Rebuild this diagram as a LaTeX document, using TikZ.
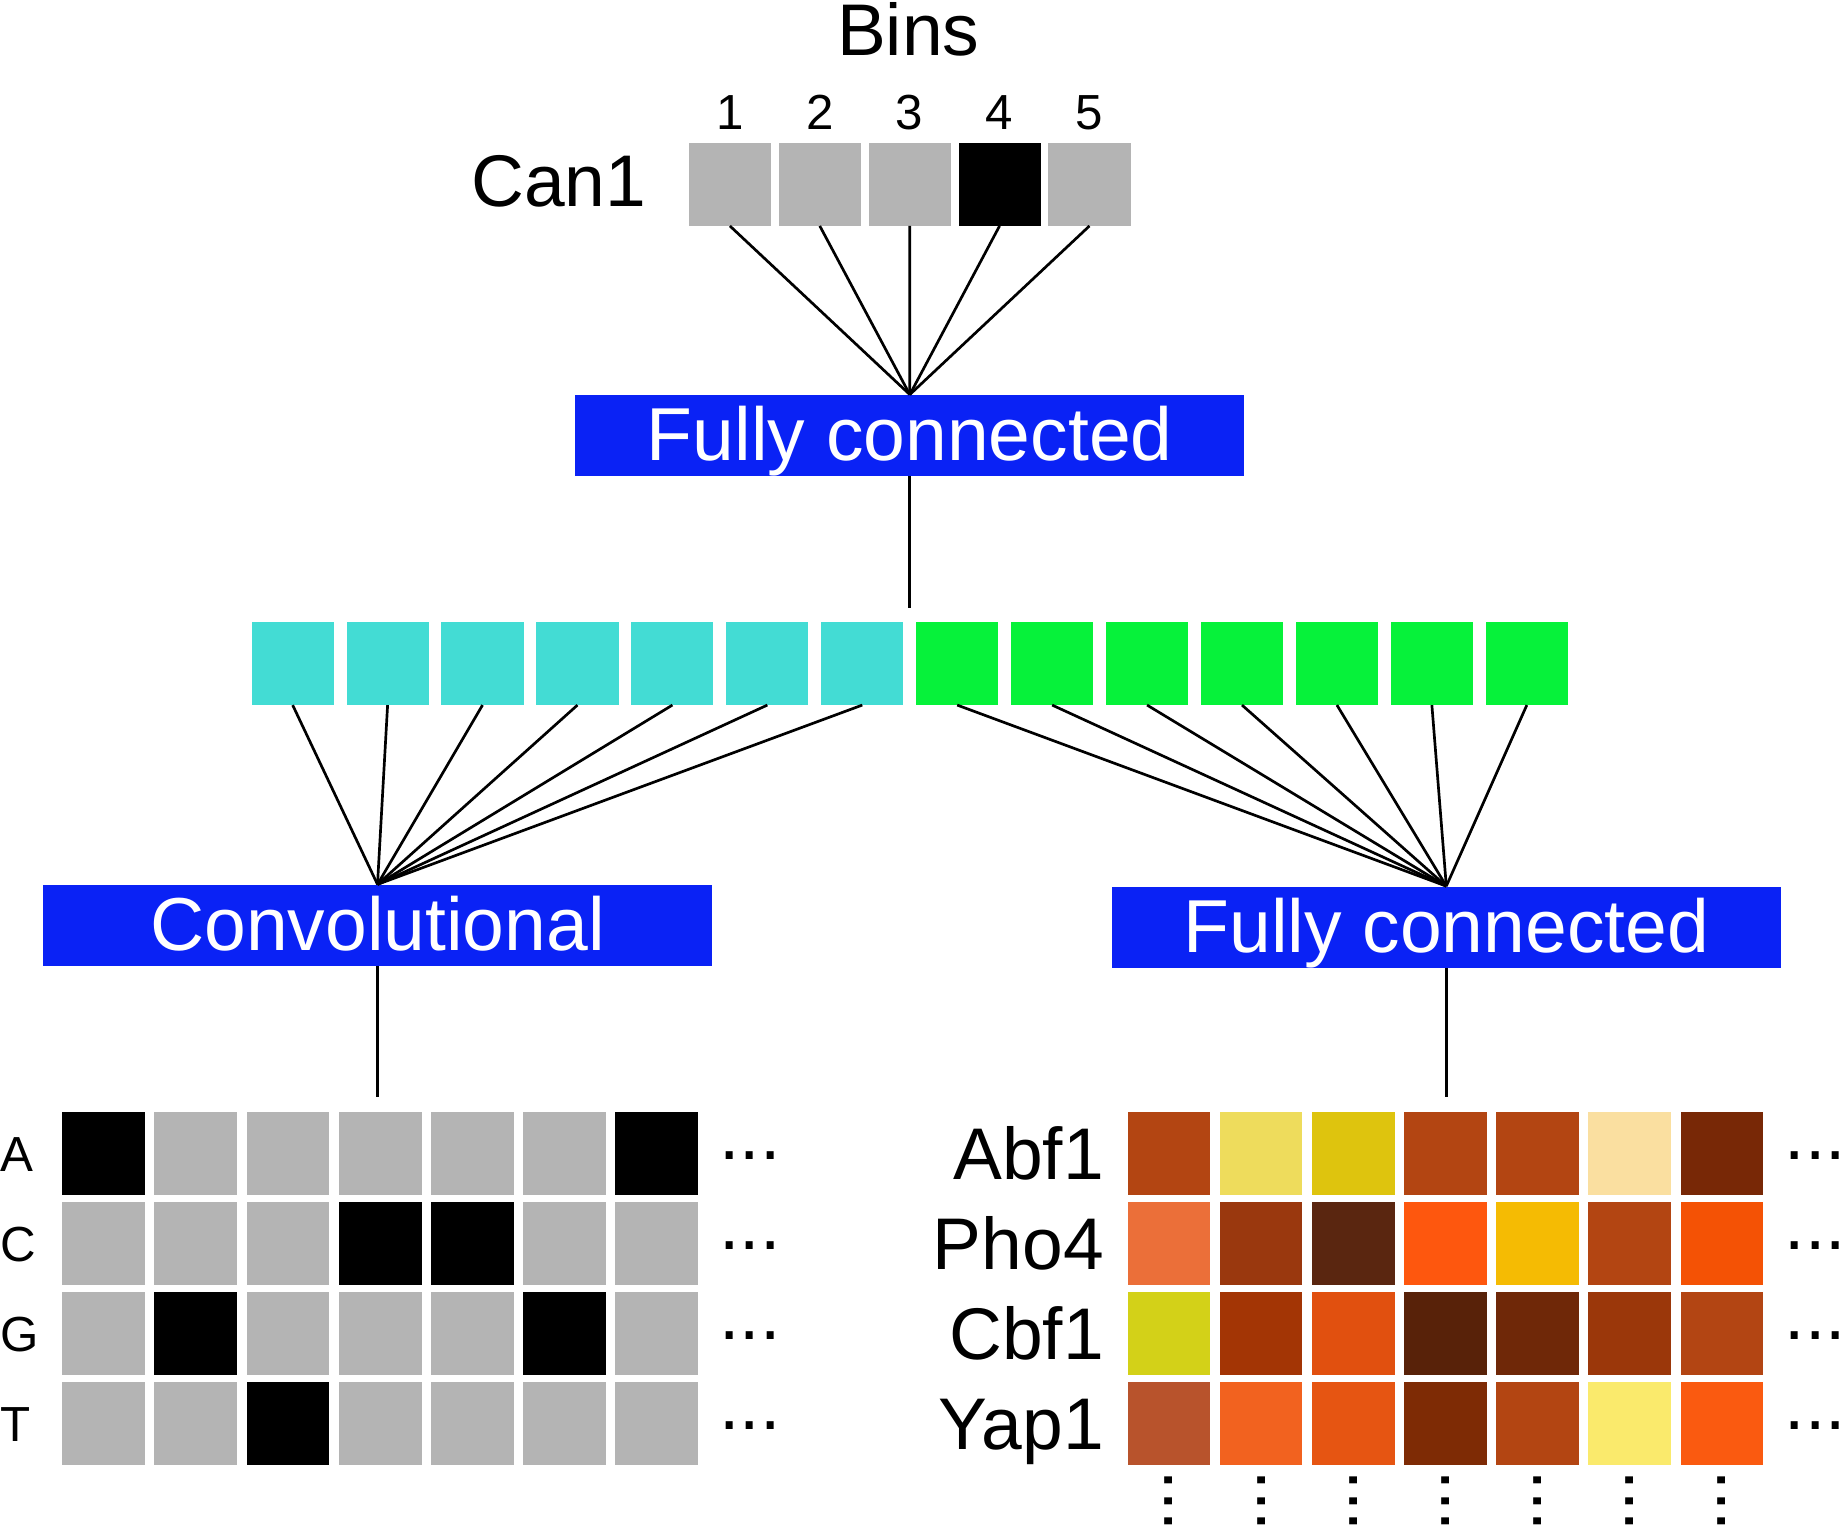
\documentclass[tikz,border=0pt]{standalone}
\usepackage{fontspec}
\setmainfont{Liberation Sans}
\definecolor{gcell}{HTML}{B4B4B4}
\definecolor{kcell}{HTML}{000000}
\definecolor{fcblue}{HTML}{0A22F5}
\definecolor{cyancell}{HTML}{43DCD4}
\definecolor{greencell}{HTML}{06F23A}
% heat map colours
\definecolor{ha1}{HTML}{B34512}\definecolor{ha2}{HTML}{EEDC5C}\definecolor{ha3}{HTML}{DEC40E}\definecolor{ha4}{HTML}{B34512}\definecolor{ha5}{HTML}{B34512}\definecolor{ha6}{HTML}{FADFA0}\definecolor{ha7}{HTML}{782806}
\definecolor{hb1}{HTML}{EB6F39}\definecolor{hb2}{HTML}{9A380E}\definecolor{hb3}{HTML}{5A2610}\definecolor{hb4}{HTML}{FE570E}\definecolor{hb5}{HTML}{F5BB03}\definecolor{hb6}{HTML}{B34512}\definecolor{hb7}{HTML}{F45205}
\definecolor{hc1}{HTML}{D3D118}\definecolor{hc2}{HTML}{A33505}\definecolor{hc3}{HTML}{E1500F}\definecolor{hc4}{HTML}{582209}\definecolor{hc5}{HTML}{6F2808}\definecolor{hc6}{HTML}{9B370A}\definecolor{hc7}{HTML}{B34513}
\definecolor{hd1}{HTML}{B8532C}\definecolor{hd2}{HTML}{F2621F}\definecolor{hd3}{HTML}{E65512}\definecolor{hd4}{HTML}{7E2B05}\definecolor{hd5}{HTML}{B34512}\definecolor{hd6}{HTML}{FAEA6C}\definecolor{hd7}{HTML}{FA5A10}
\begin{document}
\begin{tikzpicture}[x=0.02cm,y=-0.02cm,
  cell/.style={draw=none, inner sep=0, minimum width=1.41cm, minimum height=1.404cm},
  sqcell/.style={draw=none, inner sep=0, minimum width=1.4cm, minimum height=1.4cm},
  bluebox/.style={fill=fcblue, text=white, inner sep=0, minimum width=11.41cm, minimum height=1.38cm,
     font=\fontsize{36.4}{36.4}\selectfont, text height=0.88cm, text depth=0.02cm},
  biglabel/.style={inner sep=0, font=\fontsize{35.5}{35.5}\selectfont},
  smalllabel/.style={inner sep=0, font=\fontsize{23.9}{23.9}\selectfont},
  dotslabel/.style={inner sep=0, font=\fontsize{35.5}{35.5}\selectfont},
  conn/.style={line width=1.3pt, black}]
\clip (0,0) rectangle (1568,1300);
\fill[white] (0,0) rectangle (1568,1300);

% top: Bins and Can1
\node[biglabel, anchor=base] (bins) at (774,47) {Bins};
\node[biglabel, anchor=base east] (can1) at (551,176) {Can1};
\foreach \i/\cc in {1/gcell,2/gcell,3/gcell,4/kcell,5/gcell}{
  \node[sqcell, fill=\cc] (B\i) at ({622+76.6*(\i-1)},157.2) {};
  \node[smalllabel, anchor=base] (bn\i) at ({622+76.6*(\i-1)},110) {\i};
}

% top fully connected
\node[bluebox] (fc1) at (775.3,371.1) {Fully connected};
\foreach \i in {1,...,5}{ \draw[conn] (B\i.south) -- (fc1.north); }
\coordinate (fc1end) at (775.3,518);
\draw[conn] (fc1.south) -- (fc1end);

% middle row
\foreach \i in {1,...,7}{
  \node[sqcell, fill=cyancell, minimum height=1.404cm] (M\i) at ({249.4+80.9*(\i-1)},565.4) {};
}
\foreach \i in {8,...,14}{
  \node[sqcell, fill=greencell, minimum height=1.404cm] (M\i) at ({249.4+80.9*(\i-1)},565.4) {};
}

% second-level boxes
\node[bluebox] (conv) at (321.7,788.5) {Convolutional};
\node[bluebox] (fc2) at (1232.5,790) {Fully connected};
\foreach \i in {1,...,7}{ \draw[conn] (M\i.south) -- (conv.north); }
\foreach \i in {8,...,14}{ \draw[conn] (M\i.south) -- (fc2.north); }
\coordinate (convend) at (321.7,935);
\coordinate (fc2end) at (1232.5,935);
\draw[conn] (conv.south) -- (convend);
\draw[conn] (fc2.south) -- (fc2end);

% left one-hot grid
\foreach \rowcols/\lab [count=\r from 0] in {{kcell,gcell,gcell,gcell,gcell,gcell,kcell}/A,
    {gcell,gcell,gcell,kcell,kcell,gcell,gcell}/C,
    {gcell,kcell,gcell,gcell,gcell,kcell,gcell}/G,
    {gcell,gcell,kcell,gcell,gcell,gcell,gcell}/T}{
  \foreach \cc [count=\c from 0] in \rowcols {
    \node[cell, fill=\cc] (L-\r-\c) at ({88.3+78.55*\c},{983+76.7*\r}) {};
  }
  \node[smalllabel, anchor=base west] (lab\lab) at (0.5,{998.5+76.7*\r}) {\lab};
  \node[dotslabel] (ldots\r) at (639,{985+76.7*\r}) {...};
}

% right heat map
\foreach \rl/\lab [count=\r from 0] in {a/Abf1,b/Pho4,c/Cbf1,d/Yap1}{
  \foreach \c in {1,...,7}{
    \node[cell, fill=h\rl\c] (R-\r-\c) at ({996.1+78.55*(\c-1)},{983+76.7*\r}) {};
  }
  \node[biglabel, anchor=base east] (lab\lab) at (941,{1005+76.7*\r}) {\lab};
  \node[dotslabel] (rdots\r) at (1547,{985+76.7*\r}) {...};
}
\foreach \c in {1,...,7}{
  \node[dotslabel, rotate=90] (vdots\c) at ({996.1+78.55*(\c-1)},1279) {...};
}
\end{tikzpicture}
\end{document}
